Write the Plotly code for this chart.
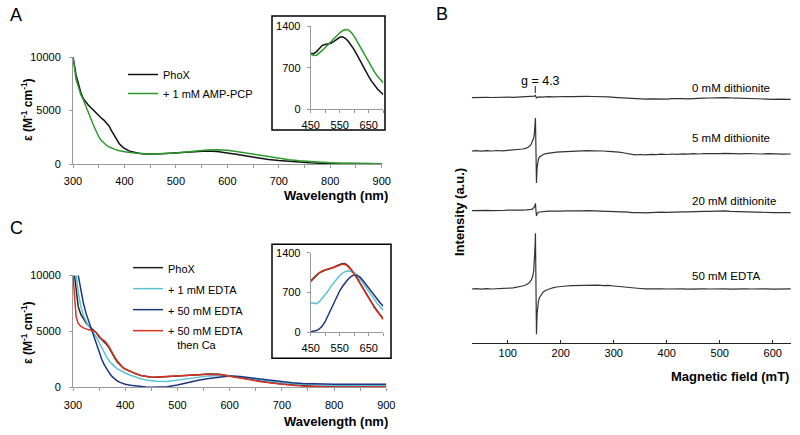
import plotly.graph_objects as go

FONT = "Liberation Sans, Arial, Helvetica, sans-serif"

# ---------------- Data: panel A (UV-vis, PhoX +/- AMP-PCP) ----------------
wavelength = [300, 303, 306, 310, 315, 320, 325, 330, 335, 340,
              345, 350, 355, 360, 365, 370, 375, 380, 385, 390,
              395, 400, 410, 420, 430, 440, 450, 460, 480, 500,
              520, 540, 560, 580, 600, 620, 640, 660, 680, 700,
              720, 740, 760, 780, 800, 820, 840, 860, 880, 900]
A_phox = [10000, 9000, 8300, 7600, 6700, 6100, 5750, 5500, 5250, 5000,
          4750, 4500, 4300, 4100, 3850, 3550, 3100, 2650, 2250, 1900,
          1650, 1450, 1200, 1070, 980, 930, 920, 930, 980, 1040,
          1100, 1160, 1210, 1160, 1040, 880, 720, 560, 430, 330,
          240, 170, 120, 80, 60, 40, 30, 30, 20, 20]
A_amppcp = [10000, 8800, 7900, 7300, 6500, 6000, 5450, 4800, 4200, 3600,
            3000, 2550, 2200, 1950, 1750, 1600, 1480, 1380, 1300, 1240,
            1190, 1150, 1080, 1030, 990, 960, 940, 940, 960, 1020,
            1120, 1220, 1300, 1330, 1280, 1150, 990, 820, 660, 520,
            400, 300, 220, 160, 110, 80, 60, 50, 40, 30]

inset_wavelength = [450, 460, 470, 480, 490, 500, 510, 520, 530, 540, 550, 560, 570,
                    580, 590, 600, 610, 620, 630, 640, 650, 660, 670, 680, 690, 700]
A_inset_phox = [940, 935, 970, 1030, 1075, 1090, 1095, 1110, 1140, 1180, 1210, 1220, 1190,
                1140, 1075, 1000, 910, 815, 720, 630, 550, 470, 400, 340, 290, 250]
A_inset_amppcp = [930, 905, 910, 945, 990, 1040, 1090, 1140, 1190, 1240, 1285, 1320, 1340,
                  1335, 1290, 1225, 1140, 1050, 960, 870, 780, 700, 625, 555, 495, 445]

# ---------------- Data: panel C (UV-vis, EDTA series) ----------------
C_phox = [None, 10000, 8500, 7200, 6500, 6100, 5750, 5500, 5300, 5120,
          4850, 4500, 4250, 4050, 3800, 3450, 3000, 2600, 2250, 1980,
          1780, 1620, 1400, 1220, 1060, 950, 890, 900, 970, 1040,
          1080, 1120, 1180, 1160, 1010, 850, 680, 520, 400, 300,
          210, 140, 90, 60, 40, 30, 30, 40, 50, 60]
C_edta1 = [None, None, 10000, 8500, 7200, 6400, 5900, 5450, 5150, 4850,
           4450, 4000, 3500, 3050, 2650, 2300, 2050, 1850, 1650, 1500,
           1380, 1280, 1080, 900, 760, 650, 570, 530, 520, 640,
           810, 930, 1020, 1060, 1040, 920, 780, 640, 510, 400,
           320, 260, 220, 190, 170, 160, 150, 150, 140, 140]
C_edta50 = [None, None, None, 10000, 8600, 7500, 6600, 5900, 5200, 4500,
            3800, 3100, 2500, 2000, 1600, 1250, 950, 720, 560, 440,
            350, 280, 180, 110, 60, 20, 0, 10, 50, 200,
            420, 620, 780, 920, 1000, 960, 850, 720, 600, 490,
            410, 350, 310, 290, 280, 270, 270, 270, 270, 270]
C_edta50_ca = [10000, 7600, 6300, 5700, 5450, 5300, 5200, 5130, 5100, 5050,
               4850, 4550, 4300, 4150, 3900, 3550, 3100, 2700, 2350, 2030,
               1800, 1630, 1390, 1210, 1060, 950, 900, 910, 970, 1040,
               1080, 1110, 1170, 1140, 1000, 840, 670, 500, 380, 280,
               190, 120, 70, 40, 20, 20, 20, 30, 30, 40]

C_inset_phox = [900, 955, 1005, 1045, 1075, 1095, 1110, 1125, 1145, 1170, 1195, 1210, 1200,
                1160, 1100, 1035, 955, 865, 775, 685, 600, 515, 440, 370, 300, 235]
C_inset_edta1 = [520, 510, 505, 540, 600, 660, 730, 810, 880, 940, 1000, 1045, 1070,
                 1080, 1070, 1050, 1000, 940, 870, 790, 715, 640, 570, 500, 440, 390]
C_inset_edta50 = [10, 20, 30, 60, 110, 190, 300, 420, 540, 640, 730, 810, 880,
                  940, 985, 1010, 1000, 970, 910, 845, 775, 700, 630, 565, 510, 460]
C_inset_edta50_ca = [890, 950, 1010, 1050, 1080, 1100, 1115, 1130, 1145, 1165, 1185, 1200, 1190,
                     1150, 1090, 1025, 945, 855, 765, 675, 590, 505, 430, 360, 295, 230]

C_names = ["PhoX", "+ 1 mM EDTA", "+ 50 mM EDTA",
           "+ 50 mM EDTA<br>\u00a0\u00a0\u00a0then Ca"]

# ---------------- Data: panel B (EPR spectra) ----------------
B_field = [32, 40, 50, 60, 70, 80, 90, 100, 110, 120, 128, 135, 140, 144, 147, 149,
           150.5, 151.5, 152.3, 153, 153.6, 154.2, 154.8, 155.5, 156.5, 158, 160, 163,
           167, 172, 178, 185, 192, 200, 210, 220, 230, 240, 250, 260, 270, 280, 290,
           300, 310, 320, 328, 334, 340, 350, 360, 370, 380, 390, 400, 410, 420, 430,
           440, 450, 460, 470, 480, 490, 500, 510, 520, 530, 540, 550, 560, 570, 580,
           590, 600, 610, 620, 634]
B_0mM = [0, 0.2, -0.1, 0.3, 0.1, 0.4, 0.2, 0.5, 0.3, 0.6, 0.4, 0.7, 0.5, 0.8, 0.7, 1.0,
         1.5, 2.0, 2.2, 1.2, -0.2, -0.6, 0.0, 0.4, 0.6, 0.5, 0.7, 0.5,
         0.8, 0.6, 0.9, 0.7, 1.0, 0.8, 1.1, 0.9, 1.2, 1.0, 1.3, 1.1, 1.2, 0.9, 0.7,
         0.3, 0.0, -0.4, -0.9, -1.2, -1.4, -1.2, -1.5, -1.3, -1.6, -1.2, -1.5, -1.1, -1.4, -1.0,
         -1.2, -0.8, -1.0, -0.6, -0.4, -0.1, 0.2, 0.0, -0.3, -0.5, -0.8, -1.0, -1.3, -1.1, -1.5,
         -1.3, -1.7, -1.5, -1.8, -1.7]
B_5mM = [0, 0.3, -0.2, 0.4, 0.0, 0.5, 0.2, 0.6, 0.8, 1.2, 2.0, 2.8, 4.2, 6.5, 9.5, 13,
         19, 26, 33, 10, -15, -32, -24, -16, -11, -8, -6, -4.5,
         -3.5, -2.6, -2.0, -1.5, -1.2, -0.8, -0.5, -0.2, 0.0, 0.2, 0.3, 0.2, 0.4, 0.0, -0.3,
         -0.6, -1.2, -2.0, -2.8, -3.4, -3.8, -3.5, -3.9, -3.4, -3.7, -3.2, -3.5, -3.0, -3.3, -2.8,
         -3.1, -2.6, -3.0, -2.5, -2.8, -2.4, -2.7, -2.3, -2.6, -2.4, -2.8, -2.5, -2.9, -2.6, -3.0,
         -2.7, -3.1, -2.8, -3.2, -3.0]
B_20mM = [0, 0.3, 0.0, 0.4, 0.1, 0.5, 0.2, 0.5, 0.3, 0.6, 0.5, 0.8, 0.9, 1.3, 1.8, 2.6,
          4.0, 5.8, 7.3, 2.0, -3.0, -5.3, -4.0, -2.8, -2.0, -1.6, -1.3, -1.0,
          -0.8, -0.6, -0.4, -0.5, -0.2, -0.4, -0.1, -0.3, 0.0, -0.2, 0.1, -0.1, 0.2, 0.0, -0.2,
          -0.4, -0.7, -1.0, -1.4, -2.0, -2.2, -1.9, -2.1, -1.7, -1.9, -1.5, -1.7, -1.3, -1.5, -1.1,
          -1.2, -0.8, -1.0, -0.6, -0.7, -0.3, -0.4, -0.2, -0.6, -0.8, -1.1, -1.3, -1.6, -1.5, -1.8,
          -1.6, -1.9, -1.8, -2.1, -2.0]
B_50mM = [0, 0.3, -0.2, 0.3, 0.0, 0.5, 0.3, 0.8, 1.2, 2.0, 3.0, 4.3, 6.0, 8.5, 12.5, 18,
          28, 42, 55.7, 15, -25, -45.3, -35, -24, -17, -12, -8.5, -5.5,
          -3.0, -1.2, 0.2, 1.2, 2.0, 2.6, 3.0, 3.3, 3.5, 3.8, 4.0, 3.7, 3.9, 3.4, 3.6,
          3.0, 2.5, 1.8, 1.2, 0.6, 0.3, 0.5, 0.1, 0.3, -0.1, 0.2, 0.0, 0.3, -0.1, 0.2,
          -0.2, 0.1, -0.1, 0.2, 0.0, 0.3, 0.1, 0.2, -0.2, 0.1, -0.1, 0.2, 0.0, 0.3, 0.0,
          0.2, -0.1, 0.1, 0.0, 0.1]
B_labels = ["0 mM dithionite", "5 mM dithionite", "20 mM dithionite", "50 mM EDTA"]
B_series = [B_0mM, B_5mM, B_20mM, B_50mM]
B_offsets = [245.1, 191.7, 132.0, 53.7]        # vertical stacking of the spectra
B_label_y = [254.7, 205.0, 141.7, 66.7]
B_label_field = 444
g_field = 152
g_label = "g = 4.3"

# ---------------- styling ----------------
W, H = 800, 435
def px(x):
    return x / W
def py(y):
    return 1 - y / H

BLACK = "#111111"
GREEN = "#2b9a2b"
LIGHTBLUE = "#5cc2d8"
DARKBLUE = "#1c3685"
RED = "#d8321e"
AXGRAY = "#9a9a9a"

fig = go.Figure()

# Panel A main
fig.add_trace(go.Scatter(x=wavelength, y=A_phox, mode="lines", name="PhoX",
                         line=dict(color=BLACK, width=1.5), xaxis="x", yaxis="y",
                         legend="legend", legendgroup="a1"))
fig.add_trace(go.Scatter(x=wavelength, y=A_amppcp, mode="lines", name="+ 1 mM AMP-PCP",
                         line=dict(color=GREEN, width=1.5), xaxis="x", yaxis="y",
                         legend="legend", legendgroup="a2"))
# Panel A inset
fig.add_trace(go.Scatter(x=inset_wavelength, y=A_inset_phox, mode="lines", showlegend=False,
                         line=dict(color=BLACK, width=1.5), xaxis="x2", yaxis="y2"))
fig.add_trace(go.Scatter(x=inset_wavelength, y=A_inset_amppcp, mode="lines", showlegend=False,
                         line=dict(color=GREEN, width=1.5), xaxis="x2", yaxis="y2"))

# Panel B
for vals, off in zip(B_series, B_offsets):
    fig.add_trace(go.Scatter(x=B_field, y=[off + v for v in vals], mode="lines",
                             showlegend=False, line=dict(color="#333333", width=1.2),
                             xaxis="x3", yaxis="y3"))

# Panel C main
C_main = [C_phox, C_edta1, C_edta50, C_edta50_ca]
C_inset = [C_inset_phox, C_inset_edta1, C_inset_edta50, C_inset_edta50_ca]
C_colors = ["#222222", LIGHTBLUE, DARKBLUE, RED]
for i, (vals, name, col) in enumerate(zip(C_main, C_names, C_colors)):
    fig.add_trace(go.Scatter(x=wavelength, y=vals, mode="lines", name=name,
                             line=dict(color=col, width=1.5), xaxis="x4", yaxis="y4",
                             legend="legend2", legendgroup="c%d" % i))
for vals, col in zip(C_inset, C_colors):
    fig.add_trace(go.Scatter(x=inset_wavelength, y=vals, mode="lines", showlegend=False,
                             line=dict(color=col, width=1.5), xaxis="x5", yaxis="y5"))

tickfont = dict(family=FONT, size=11, color="black")
def gray_axis(**kw):
    d = dict(showgrid=False, zeroline=False, showline=True, linecolor=AXGRAY, linewidth=1,
             ticks="outside", ticklen=3, tickcolor=AXGRAY, tickfont=tickfont, fixedrange=True,
             automargin=False, tickformat="d")
    d.update(kw)
    return d

minor50 = dict(dtick=50, ticks="outside", ticklen=3, tickcolor=AXGRAY, showgrid=False)

fig.update_layout(
    template="none",
    width=W, height=H, margin=dict(l=0, r=0, t=0, b=0, pad=0, autoexpand=False),
    paper_bgcolor="white", plot_bgcolor="rgba(0,0,0,0)",
    font=dict(family=FONT, size=11, color="black"),
    xaxis=gray_axis(domain=[px(73), px(381.7)], range=[300, 900], tick0=300, dtick=100,
                    minor=dict(minor50, tick0=300), anchor="y", ticklabelstandoff=4),
    yaxis=gray_axis(domain=[py(164), py(57)], range=[0, 10000], tickvals=[0, 5000, 10000],
                    anchor="x", ticklabelstandoff=6),
    xaxis2=gray_axis(domain=[px(310.7), px(383.3)], range=[450, 700], tickvals=[450, 550, 650],
                     minor=dict(minor50, tick0=450), anchor="y2", ticklabelstandoff=2),
    yaxis2=gray_axis(domain=[py(109.3), py(26)], range=[0, 1400], tickvals=[0, 700, 1400],
                     anchor="x2", ticklabelstandoff=4),
    xaxis3=dict(domain=[px(471.7), px(791)], range=[32, 634.5], tickvals=[100, 200, 300, 400, 500, 600],
                showgrid=False, zeroline=False, showline=True, linecolor="#222222", linewidth=1.3,
                ticks="inside", ticklen=3, tickcolor="#222222", tickfont=tickfont, anchor="y3",
                fixedrange=True, automargin=False),
    yaxis3=dict(domain=[py(342.7), py(70)], range=[0, 272.7], visible=False, anchor="x3",
                fixedrange=True, automargin=False),
    xaxis4=gray_axis(domain=[px(73), px(386.3)], range=[300, 900], tick0=300, dtick=100,
                     minor=dict(minor50, tick0=300), anchor="y4", ticklabelstandoff=4),
    yaxis4=gray_axis(domain=[py(387.3), py(275.3)], range=[0, 10000], tickvals=[0, 5000, 10000],
                     anchor="x4", ticklabelstandoff=6),
    xaxis5=gray_axis(domain=[px(310.7), px(383.3)], range=[450, 700], tickvals=[450, 550, 650],
                     minor=dict(minor50, tick0=450), anchor="y5", ticklabelstandoff=2),
    yaxis5=gray_axis(domain=[py(332.3), py(252.7)], range=[0, 1400], tickvals=[0, 700, 1400],
                     anchor="x5", ticklabelstandoff=4),
    legend=dict(x=px(123), y=py(60), xanchor="left", yanchor="top", bgcolor="rgba(0,0,0,0)",
                font=dict(family=FONT, size=11, color="black"), tracegroupgap=0, borderwidth=0),
    legend2=dict(x=px(128), y=py(254), xanchor="left", yanchor="top", bgcolor="rgba(0,0,0,0)",
                 font=dict(family=FONT, size=11, color="black"), tracegroupgap=2, valign="top",
                 borderwidth=0),
)

shapes = [
    dict(type="rect", xref="paper", yref="paper", x0=px(272), x1=px(385), y0=py(130), y1=py(16),
         line=dict(color="black", width=1.5), fillcolor="rgba(0,0,0,0)", layer="above"),
    dict(type="rect", xref="paper", yref="paper", x0=px(272), x1=px(391), y0=py(358.3), y1=py(244.3),
         line=dict(color="black", width=1.5), fillcolor="rgba(0,0,0,0)", layer="above"),
    dict(type="line", xref="x3", yref="y3", x0=g_field, x1=g_field, y0=249.7, y1=256.7,
         line=dict(color="#222222", width=1)),
]

bold13 = dict(family=FONT, size=13, color="black", weight="bold")
bold12 = dict(family=FONT, size=12, color="black", weight="bold")
letter = dict(family=FONT, size=18, color="black")
eps_title = "ε (M<sup>-1</sup> cm<sup>-1</sup>)"
annotations = [
    dict(text="A", x=px(16), y=py(15), font=letter),
    dict(text="B", x=px(441.5), y=py(14), font=letter),
    dict(text="C", x=px(16), y=py(228), font=letter),
    dict(text="Wavelength (nm)", x=px(390), y=py(195), xanchor="right", font=bold13),
    dict(text="Wavelength (nm)", x=px(390), y=py(421.7), xanchor="right", font=bold13),
    dict(text="Magnetic field (mT)", x=px(791), y=py(376.7), xanchor="right", font=bold13),
    dict(text=eps_title, x=px(27), y=py(110), textangle=-90, font=bold12),
    dict(text=eps_title, x=px(27), y=py(333), textangle=-90, font=bold12),
    dict(text="Intensity (a.u.)", x=px(460), y=py(212), textangle=-90, font=bold13),
]
for a in annotations:
    a.setdefault("xanchor", "center")
    a.update(xref="paper", yref="paper", yanchor="middle", showarrow=False)

for lab, ly in zip(B_labels, B_label_y):
    annotations.append(dict(text=lab, x=B_label_field, y=ly, xref="x3", yref="y3",
                            xanchor="left", yanchor="middle", showarrow=False,
                            font=dict(family=FONT, size=11.5, color="black")))
annotations.append(dict(text=g_label, x=161, y=261.7, xref="x3", yref="y3", xanchor="center",
                        yanchor="middle", showarrow=False,
                        font=dict(family=FONT, size=12.5, color="black")))

fig.update_layout(shapes=shapes, annotations=annotations)
fig.write_html("out.html", config={"displayModeBar": False},
               post_script="document.body.style.margin='0';document.body.style.overflow='hidden';")
